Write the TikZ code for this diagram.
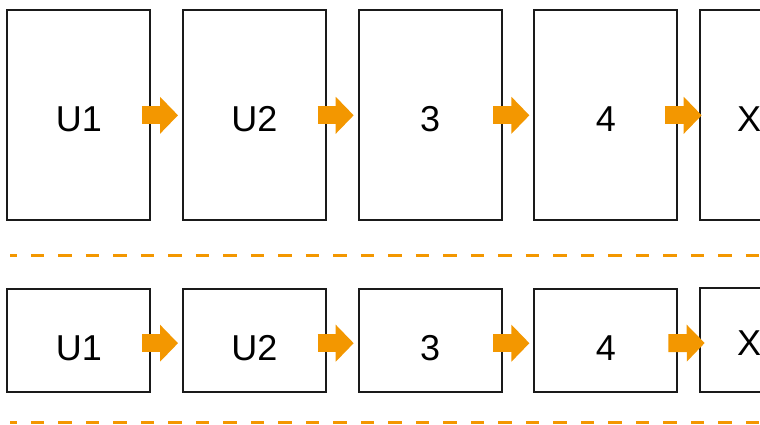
\documentclass[tikz,border=0pt]{standalone}
\usepackage{fontspec}
\setmainfont{Liberation Sans}
\usetikzlibrary{arrows.meta}
\definecolor{accent}{RGB}{243,151,0}
\definecolor{frame}{RGB}{26,26,26}

\begin{document}
\begin{tikzpicture}[
    x=0.5pt, y=-0.5pt,
    unit/.style={rectangle, draw=frame, line width=1pt, minimum width=71.5pt,
                 inner sep=0pt, text depth=0pt, font=\fontsize{18pt}{18pt}\selectfont},
    tall/.style={unit, minimum height=105pt, text height=16.6pt},
    flat/.style={unit, minimum height=51.5pt, text height=20.7pt},
    flow/.style={draw=accent, line width=9pt, -{Triangle[length=9pt, width=18pt]}},
    sep/.style={draw=accent, line width=1.5pt, dash pattern=on 6.65pt off 7.1pt, dash phase=3.3pt}
]
    \useasboundingbox (0,0) rectangle (760,424);
    \clip (0,0) rectangle (760,424);

    % Upper row
    \node[tall] (t1) at (78.8,115.3) {U1};
    \node[tall] (t2) at (254.5,115.3) {U2};
    \node[tall] (t3) at (430.2,115.3) {3};
    \node[tall] (t4) at (605.9,115.3) {4};
    \node[tall, minimum width=49.5pt] (t5) at (749.2,115.3) {X};

    % Lower row
    \node[flat] (b1) at (78.8,340.2) {U1};
    \node[flat] (b2) at (254.5,340.2) {U2};
    \node[flat] (b3) at (430.2,340.2) {3};
    \node[flat] (b4) at (605.9,340.2) {4};
    \node[flat, minimum width=49.5pt, minimum height=52.3pt, text height=15.9pt] (b5) at (749.2,340) {X};

    % Arrows (upper)
    \draw[flow] ([xshift=-4.75pt]t1.east) -- ([xshift=-2pt]t2.west);
    \draw[flow] ([xshift=-4.75pt]t2.east) -- ([xshift=-2pt]t3.west);
    \draw[flow] ([xshift=-4.75pt]t3.east) -- ([xshift=-2pt]t4.west);
    \draw[flow] ([xshift=-6.65pt]t4.east) -- ([xshift=1.5pt]t5.west);

    % Arrows (lower)
    \draw[flow] ([xshift=-4.75pt,yshift=-1.5pt]b1.east) -- ([xshift=-2pt,yshift=-1.5pt]b2.west);
    \draw[flow] ([xshift=-4.75pt,yshift=-1.5pt]b2.east) -- ([xshift=-2pt,yshift=-1.5pt]b3.west);
    \draw[flow] ([xshift=-4.75pt,yshift=-1.5pt]b3.east) -- ([xshift=-2pt,yshift=-1.5pt]b4.west);
    \draw[flow] ([xshift=-5pt,yshift=-1.5pt]b4.east) -- ([xshift=3pt,yshift=-1.5pt]b5.west);

    % Separators
    \draw[sep] (10,255.3) -- (770,255.3);
    \draw[sep] (10,422.3) -- (770,422.3);
\end{tikzpicture}
\end{document}
